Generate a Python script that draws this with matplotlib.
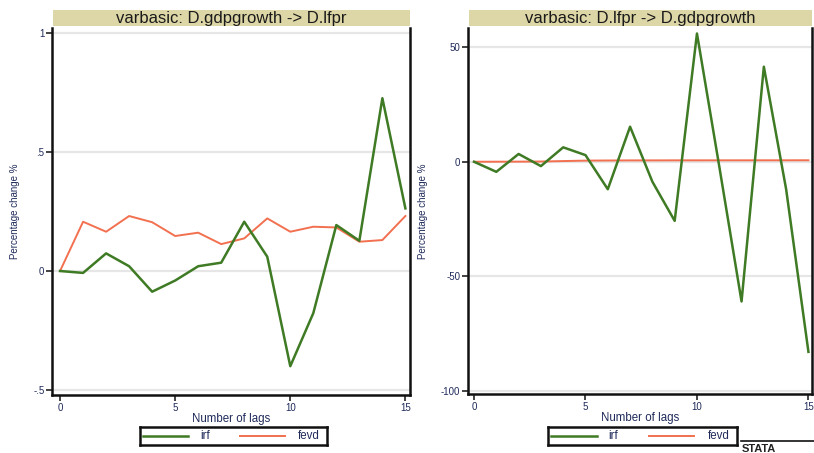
import matplotlib
matplotlib.use("Agg")
import matplotlib.pyplot as plt
from matplotlib.lines import Line2D
from matplotlib.patches import Rectangle

plt.rcParams['font.family'] = ['Liberation Sans', 'DejaVu Sans']

lags = list(range(16))
irf_left = [0.0, -0.008, 0.074, 0.02, -0.087, -0.04, 0.02, 0.035, 0.207, 0.06,
            -0.40, -0.177, 0.193, 0.127, 0.726, 0.263]
fevd_left = [0.0, 0.207, 0.165, 0.231, 0.205, 0.147, 0.161, 0.113, 0.137, 0.221,
             0.165, 0.186, 0.183, 0.123, 0.13, 0.231]
irf_right = [0.0, -4.4, 3.4, -1.9, 6.3, 2.9, -12.0, 15.3, -8.7, -25.8,
             56.0, -2.0, -61.0, 41.5, -12.0, -83.0]
fevd_right = [0.0, 0.02, 0.05, 0.1, 0.3, 0.5, 0.55, 0.6, 0.6, 0.62,
              0.62, 0.63, 0.63, 0.64, 0.64, 0.65]

titles = ["varbasic: D.gdpgrowth -> D.lfpr", "varbasic: D.lfpr -> D.gdpgrowth"]
xticks = [0, 5, 10, 15]
yticks_left = [-0.5, 0, 0.5, 1]
ylabels_left = ["-.5", "0", ".5", "1"]
yticks_right = [-100, -50, 0, 50]
ylabels_right = ["-100", "-50", "0", "50"]

GREEN = "#3f7a24"
RED = "#f2704f"
TICKC = "#1f2a5a"

W, H = 814, 453
fig = plt.figure(figsize=(W / 100, H / 100), dpi=100)

def fx(px):
    return px / W

def fy(py):
    return 1 - py / H

panels = [
    dict(box=(52, 410, 28, 395), ylim=(-0.521, 1.021), xlim=(-0.35, 15.2),
         irf=irf_left, fevd=fevd_left, yt=yticks_left, yl=ylabels_left,
         title=titles[0], leg=(140, 327), ylx=20),
    dict(box=(468, 812, 28, 394), ylim=(-101.4, 58.4), xlim=(-0.27, 15.16),
         irf=irf_right, fevd=fevd_right, yt=yticks_right, yl=ylabels_right,
         title=titles[1], leg=(548, 737), ylx=428),
]

for p in panels:
    l, r, t, b = p['box']
    ax = fig.add_axes([fx(l), fy(b), fx(r) - fx(l), fy(t) - fy(b)])
    ax.set_xlim(*p['xlim'])
    ax.set_ylim(*p['ylim'])
    for yv in p['yt']:
        ax.axhline(yv, color="#e6e6e6", lw=1.6, zorder=0)
    ax.plot(lags, p['irf'], color=GREEN, lw=1.8, zorder=3)
    ax.plot(lags, p['fevd'], color=RED, lw=1.4, zorder=2)
    ax.set_xticks(xticks)
    ax.set_xticklabels([str(v) for v in xticks])
    ax.set_yticks(p['yt'])
    ax.set_yticklabels(p['yl'])
    ax.tick_params(axis='both', direction='out', length=4, width=1.2,
                   labelsize=7, colors='#222222', labelcolor=TICKC, pad=1.5)
    ax.spines['top'].set_visible(False)
    for s in ['left', 'bottom', 'right']:
        ax.spines[s].set_linewidth(1.8)
        ax.spines[s].set_color('#111111')
    ax.set_xlabel("Number of lags", fontsize=8.3, color=TICKC, labelpad=0)
    ax.set_ylabel("Percentage change %", fontsize=7, color=TICKC)
    ax.yaxis.set_label_coords((p['ylx'] - l) / (r - l), 0.5)
    # title box
    fig.patches.append(Rectangle((fx(l + 1), fy(26)), fx(r) - fx(l + 1), fy(10) - fy(26),
                                 transform=fig.transFigure, facecolor="#ddd6a6",
                                 edgecolor='none'))
    fig.text((fx(l) + fx(r)) / 2, (fy(10) + fy(26)) / 2, p['title'],
             ha='center', va='center', fontsize=12, color='#1a1a1a')
    # legend
    ll, lr = p['leg']
    lax = fig.add_axes([fx(ll), fy(445), fx(lr) - fx(ll), fy(427) - fy(445)])
    lax.set_xlim(0, 1)
    lax.set_ylim(0, 1)
    lax.set_xticks([])
    lax.set_yticks([])
    for s in lax.spines.values():
        s.set_linewidth(1.8)
        s.set_color('#111111')
    lax.add_line(Line2D([0.016, 0.257], [0.5, 0.5], color=GREEN, lw=1.8))
    lax.text(0.32, 0.5, "irf", fontsize=8.3, va='center', ha='left', color=TICKC)
    lax.add_line(Line2D([0.535, 0.775], [0.5, 0.5], color=RED, lw=1.4))
    lax.text(0.845, 0.5, "fevd", fontsize=8.3, va='center', ha='left', color=TICKC)

# Stata mark
fig.add_artist(Line2D([fx(741), fx(814)], [fy(441), fy(441)], color='#111111',
                      lw=1.2, transform=fig.transFigure))
fig.text(fx(742), fy(449), "STATA", fontsize=8, fontweight='bold', color='#222222',
         ha='left', va='center')

fig.savefig("out.png", dpi=100)
